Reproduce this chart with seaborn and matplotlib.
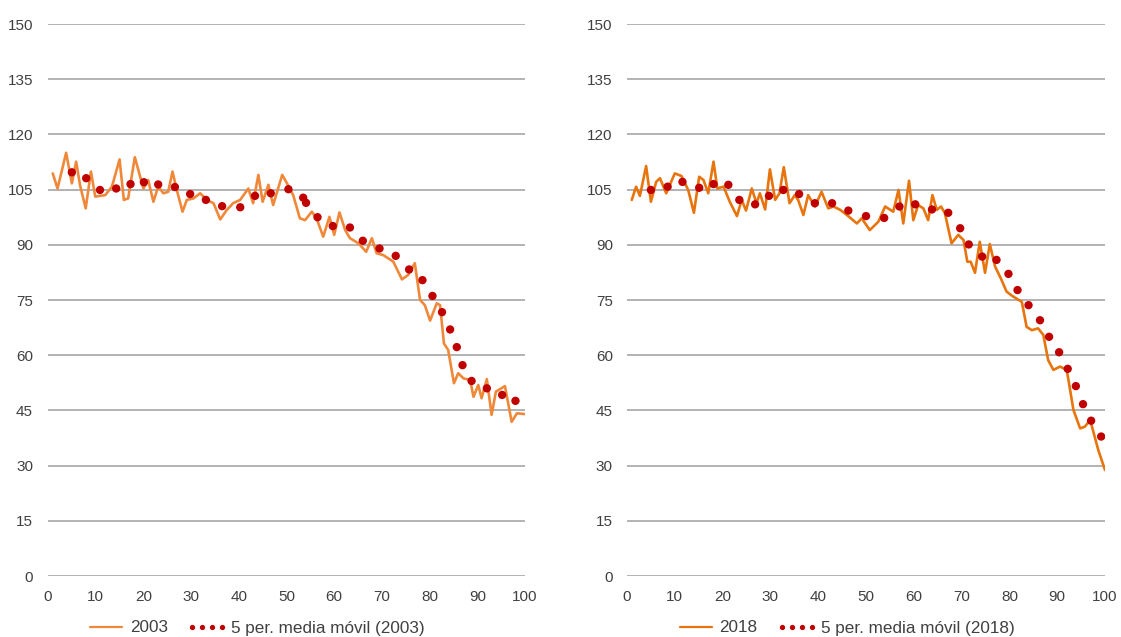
import matplotlib
matplotlib.use("Agg")
import matplotlib.pyplot as plt
from matplotlib.lines import Line2D
from matplotlib.legend_handler import HandlerLine2D
import seaborn as sns
import pandas as pd

# ---------------- data ----------------
ages_2003 = [1.0, 2.0, 3.8, 5.0, 5.9, 6.7, 7.9, 9.0, 9.9, 12.0, 13.4, 15.0, 15.9, 16.8, 18.2, 20.0,
             21.0, 22.1, 23.1, 24.2, 25.2, 26.1, 27.0, 28.2, 29.1, 30.5, 31.9, 33.3, 34.7, 36.1,
             37.5, 38.8, 40.3, 42.0, 43.0, 44.1, 45.0, 46.2, 47.2, 49.1, 50.1, 51.4, 52.8, 53.9,
             55.3, 56.3, 57.7, 59.0, 60.0, 61.1, 62.3, 63.3, 65.1, 66.7, 67.9, 68.9, 70.3, 72.4,
             74.2, 75.5, 76.9, 78.0, 79.0, 80.1, 81.5, 82.2, 83.0, 83.9, 85.1, 86.0, 87.1, 88.5,
             89.2, 90.2, 90.9, 92.0, 93.0, 93.9, 95.8, 97.2, 98.3, 100.0]
values_2003 = [109.4, 105.3, 115.0, 106.7, 112.6, 106.3, 99.9, 109.9, 103.1, 103.5, 105.8, 113.2,
               102.2, 102.6, 113.8, 105.3, 107.6, 101.7, 105.8, 104.0, 104.4, 109.9, 104.9, 99.0,
               102.2, 102.6, 104.0, 102.2, 101.3, 96.9, 99.5, 101.3, 102.2, 105.3, 101.3, 109.0,
               101.7, 106.3, 100.8, 109.0, 106.7, 103.5, 97.2, 96.7, 99.0, 97.2, 92.2, 97.6, 92.7,
               98.8, 94.0, 91.8, 90.4, 88.1, 91.8, 87.7, 87.2, 85.4, 80.6, 81.8, 85.0, 75.0, 73.6,
               69.4, 74.1, 73.6, 63.2, 61.4, 52.4, 55.1, 53.7, 53.3, 48.7, 51.9, 48.3, 53.5, 43.8,
               50.1, 51.6, 41.9, 44.2, 44.0]
ma_ages_2003 = [5.0, 8.0, 10.9, 14.3, 17.3, 20.1, 23.1, 26.6, 29.8, 33.1, 36.5, 40.3, 43.4, 46.7,
                50.4, 53.5, 54.1, 56.5, 59.7, 63.3, 66.0, 69.5, 72.9, 75.7, 78.5, 80.6, 82.6, 84.3,
                85.7, 86.9, 88.8, 92.0, 95.2, 98.0]
ma_values_2003 = [109.7, 108.1, 104.9, 105.3, 106.5, 107.0, 106.4, 105.7, 103.8, 102.2, 100.5,
                  100.2, 103.3, 104.0, 105.1, 102.8, 101.4, 97.5, 95.1, 94.7, 91.1, 89.0, 87.0,
                  83.3, 80.4, 76.1, 71.7, 67.0, 62.2, 57.3, 53.0, 51.0, 49.2, 47.6]

ages_2018 = [1.0, 1.9, 2.7, 4.0, 5.0, 6.1, 6.9, 8.2, 10.0, 11.4, 12.8, 14.0, 15.1, 16.0, 17.0, 18.1,
             18.9, 20.2, 21.5, 23.0, 24.0, 24.9, 26.1, 27.1, 27.8, 28.9, 29.9, 31.0, 31.9, 32.8,
             34.0, 35.1, 35.8, 36.9, 37.9, 39.3, 40.7, 42.1, 43.2, 44.6, 46.0, 48.1, 49.1, 50.8,
             52.6, 54.0, 55.7, 56.8, 57.8, 59.0, 59.9, 60.9, 62.0, 63.0, 63.9, 64.8, 65.7, 66.5,
             67.9, 69.3, 70.4, 71.2, 71.9, 72.8, 73.8, 74.9, 75.9, 77.0, 78.2, 79.4, 80.6, 82.6,
             83.6, 84.7, 86.0, 87.1, 88.1, 89.2, 90.6, 92.0, 93.4, 94.8, 95.8, 96.9, 98.6, 100.0]
values_2018 = [102.2, 105.8, 103.3, 111.4, 101.7, 107.1, 108.1, 104.0, 109.4, 108.7, 104.9, 98.7,
               108.5, 107.6, 104.0, 112.6, 105.3, 105.8, 101.7, 97.8, 102.2, 99.3, 105.3, 101.3,
               104.0, 99.6, 110.5, 102.2, 104.0, 111.1, 101.3, 103.5, 102.2, 98.1, 103.5, 100.4,
               104.4, 99.9, 100.4, 99.5, 98.1, 95.8, 97.2, 94.0, 96.3, 100.4, 99.0, 104.9, 95.8,
               107.4, 96.7, 100.8, 99.9, 96.7, 103.5, 99.5, 100.4, 98.6, 90.4, 92.7, 91.3, 85.4,
               85.4, 82.4, 90.8, 82.4, 90.2, 84.1, 80.9, 77.3, 76.1, 74.5, 67.7, 66.8, 67.3, 65.5,
               58.7, 56.0, 56.9, 56.0, 45.1, 40.1, 40.6, 42.4, 34.2, 28.8]
ma_ages_2018 = [5.0, 8.5, 11.6, 15.1, 18.1, 21.2, 23.5, 26.8, 29.7, 32.7, 36.0, 39.3, 42.9, 46.3,
                50.0, 53.8, 57.0, 60.3, 63.8, 67.2, 69.7, 71.5, 74.3, 77.3, 79.8, 81.7, 84.0, 86.4,
                88.3, 90.4, 92.2, 93.9, 95.4, 97.1, 99.2]
ma_values_2018 = [104.9, 105.8, 107.1, 105.5, 106.5, 106.3, 102.2, 101.0, 103.3, 104.9, 103.8,
                  101.3, 101.3, 99.3, 97.8, 97.3, 100.4, 101.0, 99.6, 98.7, 94.5, 90.1, 86.8, 85.9,
                  82.1, 77.7, 73.6, 69.5, 65.0, 60.8, 56.3, 51.6, 46.7, 42.2, 37.9]

years = ["2003", "2018"]
ma_labels = ["5 per. media móvil (2003)", "5 per. media móvil (2018)"]
y_ticks = [0, 15, 30, 45, 60, 75, 90, 105, 120, 135, 150]
x_ticks = [0, 10, 20, 30, 40, 50, 60, 70, 80, 90, 100]

# ---------------- style ----------------
sns.set_style("white")
plt.rcParams["font.family"] = ["Liberation Sans", "DejaVu Sans"]
TXT = "#404040"
GRID = "#a6a6a6"
RED = "#c00000"
line_colors = ["#f0883a", "#e8740e"]

W, H = 1121, 637
fig = plt.figure(figsize=(W / 100, H / 100), dpi=100)

panels = [
    (ages_2003, values_2003, ma_ages_2003, ma_values_2003, 48, 525, 257, 10.8),
    (ages_2018, values_2018, ma_ages_2018, ma_values_2018, 627, 1105, 847, 10.2),
]

for i, (ax_x, ax_y, mx, my, x0, x1, leg_cx, ypad) in enumerate(panels):
    ax = fig.add_axes([x0 / W, 1 - 576 / H, (x1 - x0) / W, 552 / H])
    df_line = pd.DataFrame({"age": ax_x, "value": ax_y})
    df_ma = pd.DataFrame({"age": mx, "value": my})
    sns.lineplot(data=df_line, x="age", y="value", ax=ax, color=line_colors[i],
                 linewidth=1.9, sort=False, estimator=None, zorder=3,
                 solid_joinstyle="round", solid_capstyle="round")
    sns.scatterplot(data=df_ma, x="age", y="value", ax=ax, color=RED, s=36,
                    edgecolor="none", linewidth=0, zorder=4)
    ax.set_xlim(0, 100)
    ax.set_ylim(0, 150)
    ax.set_xticks(x_ticks)
    ax.set_yticks(y_ticks)
    ax.set_xticklabels([str(v) for v in x_ticks])
    ax.set_yticklabels([str(v) for v in y_ticks])
    ax.set_xlabel("")
    ax.set_ylabel("")
    for sp in ax.spines.values():
        sp.set_visible(False)
    for yv in y_ticks:
        ax.axhline(yv, color=GRID, linewidth=1.2, zorder=1)
    ax.tick_params(axis="both", length=0, labelsize=11, colors=TXT)
    ax.tick_params(axis="y", pad=ypad)
    ax.tick_params(axis="x", pad=10)

    line_handle = Line2D([], [], color=line_colors[i], linewidth=1.6)
    dot_handle = Line2D([], [], color=RED, linestyle="none", marker="o", markersize=3.8,
                        markeredgewidth=0)
    fig.legend([line_handle, dot_handle], [years[i], ma_labels[i]], loc="center",
               bbox_to_anchor=(leg_cx / W, 1 - 628 / H), ncol=2, frameon=False,
               fontsize=12.3, handlelength=1.87, handletextpad=0.47, columnspacing=1.35,
               labelcolor=TXT, borderaxespad=0, borderpad=0,
               handler_map={dot_handle: HandlerLine2D(numpoints=4, marker_pad=0.06)})

fig.savefig("out.png", dpi=100)
